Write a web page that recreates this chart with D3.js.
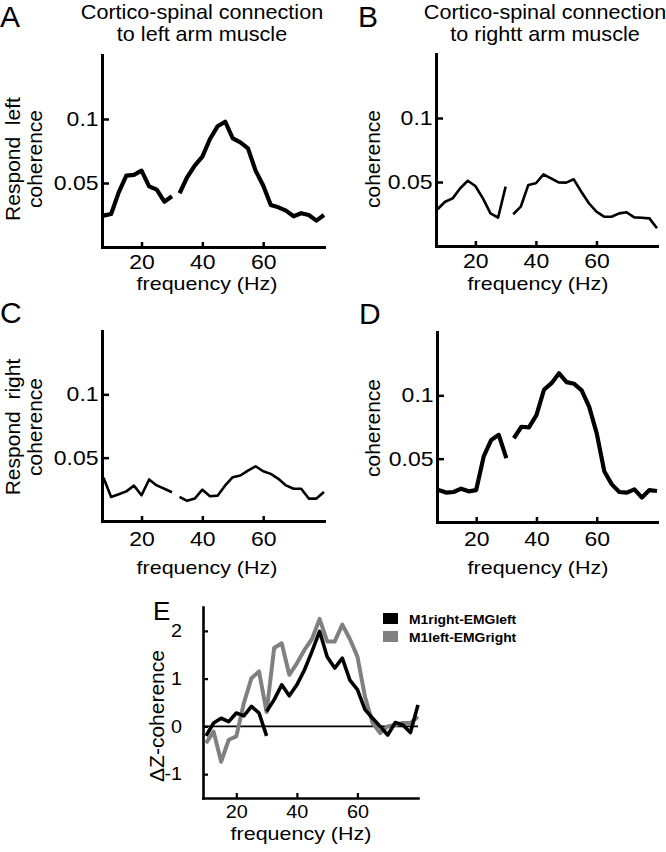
<!DOCTYPE html>
<html><head><meta charset="utf-8">
<script src="https://cdn.jsdelivr.net/npm/d3@7"></script>
<style>
body{margin:0;background:#fff}
text{font-family:"Liberation Sans",Arial,Helvetica,sans-serif;fill:#000}
</style>
</head><body>
<svg id="chart" width="666" height="852"></svg>
<script>
// ---------- DATA ----------
// frequency grid for panels A-D (null = break in the trace)
const freqAD = [7.5,10,12.5,15,17.5,20,22.5,25,27.5,30,null,32.5,35,37.5,40,42.5,45,47.5,50,52.5,55,57.5,60,62.5,65,67.5,70,72.5,75,77.5,80];
const valuesA = [0.0245,0.0258,0.0427,0.0557,0.0563,0.0597,0.0474,0.0448,0.0354,0.0396,null,0.042,0.0545,0.0636,0.0706,0.0844,0.0943,0.0979,0.0849,0.0818,0.0771,0.0597,0.048,0.0328,0.031,0.0284,0.024,0.0264,0.025,0.0206,0.025];
const valuesB = [0.0287,0.0346,0.0372,0.0451,0.051,0.0469,0.0372,0.0255,0.0221,0.0464,null,0.0248,0.0307,0.0477,0.049,0.056,0.0529,0.0497,0.0495,0.0521,0.0424,0.0334,0.0268,0.0229,0.0229,0.0255,0.0263,0.0224,0.0221,0.0216,0.0138];
const valuesC = [0.0341,0.019,0.0211,0.0234,0.0279,0.0203,0.0328,0.0281,0.0255,0.0227,null,0.019,0.0159,0.0177,0.0247,0.0195,0.02,0.0281,0.0346,0.0359,0.0398,0.0432,0.0393,0.0372,0.0333,0.0281,0.0255,0.0255,0.0177,0.0177,0.0229];
const valuesD = [0.0252,0.0232,0.0237,0.0263,0.0242,0.0252,0.0518,0.0648,0.0688,0.0505,null,0.0661,0.0752,0.0747,0.0844,0.1044,0.1096,0.1174,0.1104,0.1091,0.1039,0.0909,0.07,0.0401,0.0297,0.0237,0.0232,0.0258,0.0193,0.0252,0.0245];

// panel E
const freqE1 = [10,12.5,15,17.5,20,22.5,25,27.5,30,null,30,32.5,35,37.5,40,42.5,45,47.5,50,52.5,55,57.5,60,62.5,65,67.5,70,72.5,75,77.5,80];
const valuesE1 = [-0.2,0.07,0.17,0.1,0.28,0.22,0.42,0.28,-0.2,null,0.31,0.56,0.87,0.64,0.87,1.18,1.57,1.99,1.46,1.22,1.43,0.97,0.77,0.35,0.17,0.0,-0.18,0.08,0.03,-0.13,0.45];
const freqE2 = [10,12.5,15,17.5,20,22.5,25,27.5,30,32.5,35,37.5,40,42.5,45,47.5,50,52.5,55,57.5,60,62.5,65,67.5,70,72.5,75,77.5,80];
const valuesE2 = [-0.35,-0.11,-0.74,-0.28,-0.21,0.49,1.01,1.15,0.3,1.64,1.74,1.08,1.32,1.6,1.83,2.25,1.78,1.78,2.13,1.83,1.46,0.62,0.07,-0.14,0.0,0.03,0.07,0.07,0.2];

const seriesNamesE = ["M1right-EMGleft","M1left-EMGright"];
const seriesColorsE = ["#000000","#808080"];

const xTickValues = [20,40,60];
const xTickLabels = ["20","40","60"];
const yTickValuesAD = [0.05,0.1];
const yTickLabelsAD = ["0.05","0.1"];
const yTickValuesE = [-1,0,1,2];
const yTickLabelsE = ["-1","0","1","2"];

// ---------- DRAWING ----------
const svg = d3.select("#chart");

function hText(x, y, str, size, sx, anchor, weight) {
  return svg.append("text")
    .attr("transform", `translate(${x},${y}) scale(${sx},1)`)
    .attr("text-anchor", anchor || "middle")
    .style("font-size", size + "px")
    .style("font-weight", weight || "normal")
    .text(str);
}
function vText(x, y, str, size) {
  return svg.append("text")
    .attr("transform", `translate(${x},${y}) rotate(-90)`)
    .attr("text-anchor", "middle")
    .style("font-size", size + "px")
    .style("white-space", "pre")
    .text(str);
}

function drawAxes(x, y, o) {
  const g = svg.append("g");
  const xa = g.append("g")
    .attr("transform", `translate(0,${y.range()[0]})`)
    .call(d3.axisBottom(x).tickValues(xTickValues).tickFormat((d,i)=>xTickLabels[i])
      .tickSizeInner(-o.xTick).tickSizeOuter(0).tickPadding(o.xPad));
  const ya = g.append("g")
    .attr("transform", `translate(${x.range()[0]},0)`)
    .call(d3.axisLeft(y).tickValues(o.yTicks).tickFormat((d,i)=>o.yLabels[i])
      .tickSizeInner(-o.yTick).tickSizeOuter(0).tickPadding(o.yPad));
  [xa, ya].forEach(a => {
    a.attr("font-size", null).attr("font-family", null);
    a.select(".domain").attr("stroke", "#000").attr("stroke-width", o.axisW).attr("stroke-linecap", "square");
    a.selectAll(".tick line").attr("stroke", "#000").attr("stroke-width", o.tickW);
    a.selectAll(".tick text").style("font-size", o.tickFont + "px").attr("transform", `scale(${o.tickSx},1)`);
  });
  return g;
}

function drawLine(x, y, freqs, vals, color, width) {
  const pts = d3.zip(freqs, vals);
  const line = d3.line()
    .defined(d => d[0] != null && d[1] != null)
    .x(d => x(d[0])).y(d => y(d[1]));
  svg.append("path").datum(pts)
    .attr("d", line)
    .attr("fill", "none")
    .attr("stroke", color)
    .attr("stroke-width", width)
    .attr("stroke-linejoin", "round")
    .attr("stroke-linecap", "butt");
}

const adOpts = { xTick: 5, yTick: 7, xPad: 10, yPad: 3, axisW: 3, tickW: 2.5, tickFont: 20, tickSx: 1.15, yTicks: yTickValuesAD, yLabels: yTickLabelsAD };

const panels = [
  { xr: [102, 324], yr: [247, 55], vals: valuesA, w: 4.2, xPad: 8 },
  { xr: [436, 657], yr: [246, 54], vals: valuesB, w: 2.6, xPad: 8 },
  { xr: [102, 324], yr: [521, 331], vals: valuesC, w: 2.6, xPad: 11 },
  { xr: [437, 657], yr: [522, 332], vals: valuesD, w: 4.2, xPad: 10 }
];
panels.forEach(p => {
  const x = d3.scaleLinear().domain([7, 80]).range(p.xr);
  const y = d3.scaleLinear().domain([0, 0.15]).range(p.yr);
  drawAxes(x, y, Object.assign({}, adOpts, { xPad: p.xPad }));
  drawLine(x, y, freqAD, p.vals, "#000", p.w);
});

// Panel E
const xE = d3.scaleLinear().domain([9, 80]).range([203, 418]);
const yE = d3.scaleLinear().domain([-1.5, 2.5]).range([798, 607]);
drawAxes(xE, yE, { xTick: 5, yTick: 5, xPad: 7, yPad: 19, axisW: 2.6, tickW: 2.2, tickFont: 18, tickSx: 1.1, yTicks: yTickValuesE, yLabels: yTickLabelsE });
svg.append("line")
  .attr("x1", xE.range()[0]).attr("x2", xE.range()[1])
  .attr("y1", yE(0)).attr("y2", yE(0))
  .attr("stroke", "#000").attr("stroke-width", 1.6);
drawLine(xE, yE, freqE2, valuesE2, seriesColorsE[1], 4);
drawLine(xE, yE, freqE1, valuesE1, seriesColorsE[0], 3.6);

// legend
seriesNamesE.forEach((name, i) => {
  const ly = [613, 631][i];
  svg.append("rect").attr("x", 383).attr("y", ly).attr("width", 15).attr("height", 11).attr("fill", seriesColorsE[i]);
  hText(409, ly + 10.5, name, 13.5, 1.03, "start", "bold");
});

// ---------- TEXT ----------
// panel letters
hText(0, 27.2, "A", 30, 1, "start");
hText(358, 27.2, "B", 30, 1, "start");
hText(0, 323, "C", 30, 1, "start");
hText(359, 324, "D", 30, 1, "start");
hText(153, 620, "E", 26, 1, "start");

// titles
hText(202, 19, "Cortico-spinal connection", 20, 1.08);
hText(202, 41, "to left arm muscle", 20, 1.08);
hText(545, 19, "Cortico-spinal connection", 20, 1.08);
hText(545, 41, "to rightt arm muscle", 20, 1.08);

// x labels
hText(207, 289.5, "frequency (Hz)", 19, 1.13);
hText(538, 289.5, "frequency (Hz)", 19, 1.13);
hText(207, 574, "frequency (Hz)", 19, 1.13);
hText(538, 574, "frequency (Hz)", 19, 1.13);
hText(301, 840, "frequency (Hz)", 19, 1.13);

// y labels
vText(19.5, 159, "Respond  left", 21);
vText(42, 159, "coherence", 21);
vText(380, 159, "coherence", 21);
vText(19.5, 427, "Respond  right", 21);
vText(42, 427, "coherence", 21);
vText(380, 428, "coherence", 21);
vText(163.5, 716, "\u0394Z-coherence", 21);
</script>
</body></html>
